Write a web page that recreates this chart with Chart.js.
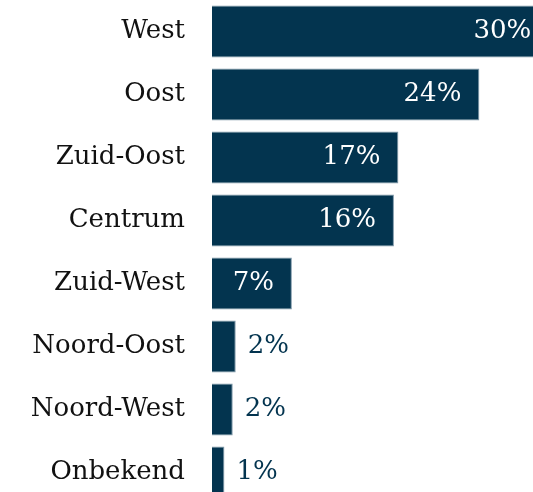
<!DOCTYPE html>
<html>
<head>
<meta charset="utf-8">
<script src="https://cdn.jsdelivr.net/npm/chart.js@4"></script>
<style>
    html, body { margin: 0; padding: 0; background: #fff; overflow: hidden; }
    #wrap { position: absolute; left: 0; top: 0; width: 567px; height: 504px; }
</style>
</head>
<body>
<div id="wrap"><canvas id="region-chart"></canvas></div>
<script>
const regions = ['West', 'Oost', 'Zuid-Oost', 'Centrum', 'Zuid-West', 'Noord-Oost', 'Noord-West', 'Onbekend'];
const shares = [30.4, 24.1, 16.8, 16.4, 7.2, 2.14, 1.87, 1.12];

const navy = '#03344f';
const labelFont = '26px "DejaVu Serif", "Liberation Serif", serif';

// Draw the percentage next to / inside each bar
const valueLabels = {
    id: 'valueLabels',
    afterDatasetsDraw(chart) {
        const ctx = chart.ctx;
        const meta = chart.getDatasetMeta(0);
        ctx.save();
        ctx.font = labelFont;
        ctx.textBaseline = 'middle';
        meta.data.forEach((bar, i) => {
            const text = Math.round(shares[i]) + '%';
            const w = ctx.measureText(text).width;
            const barWidth = bar.x - bar.base;
            if (barWidth > w + 30) {
                ctx.fillStyle = '#ffffff';
                ctx.textAlign = 'right';
                ctx.fillText(text, bar.x - 18, bar.y);
            } else {
                ctx.fillStyle = navy;
                ctx.textAlign = 'left';
                ctx.fillText(text, bar.x + 12, bar.y);
            }
        });
        ctx.restore();
    }
};

const regionChart = new Chart(document.getElementById('region-chart'), {
    type: 'bar',
    data: {
        labels: regions,
        datasets: [{
            label: 'Aandeel',
            data: shares,
            backgroundColor: navy,
            borderColor: '#7f98a9',
            borderWidth: 1,
            borderSkipped: 'start',
            categoryPercentage: 1,
            barPercentage: 0.825
        }]
    },
    options: {
        indexAxis: 'y',
        responsive: true,
        maintainAspectRatio: false,
        animation: false,
        layout: { padding: 0 },
        plugins: {
            legend: { display: false },
            tooltip: { enabled: false }
        },
        scales: {
            x: {
                display: false,
                min: 0,
                max: 32
            },
            y: {
                afterFit(scale) {
                    // fixed label column, no extra room above/below
                    scale.width = 212;
                    scale.paddingTop = 0;
                    scale.paddingBottom = 0;
                },
                grid: { display: false, drawTicks: false },
                border: { display: false },
                ticks: {
                    color: '#111111',
                    padding: 27,
                    font: { family: '"DejaVu Serif", "Liberation Serif", serif', size: 26 }
                }
            }
        }
    },
    plugins: [valueLabels]
});
</script>
</body>
</html>
